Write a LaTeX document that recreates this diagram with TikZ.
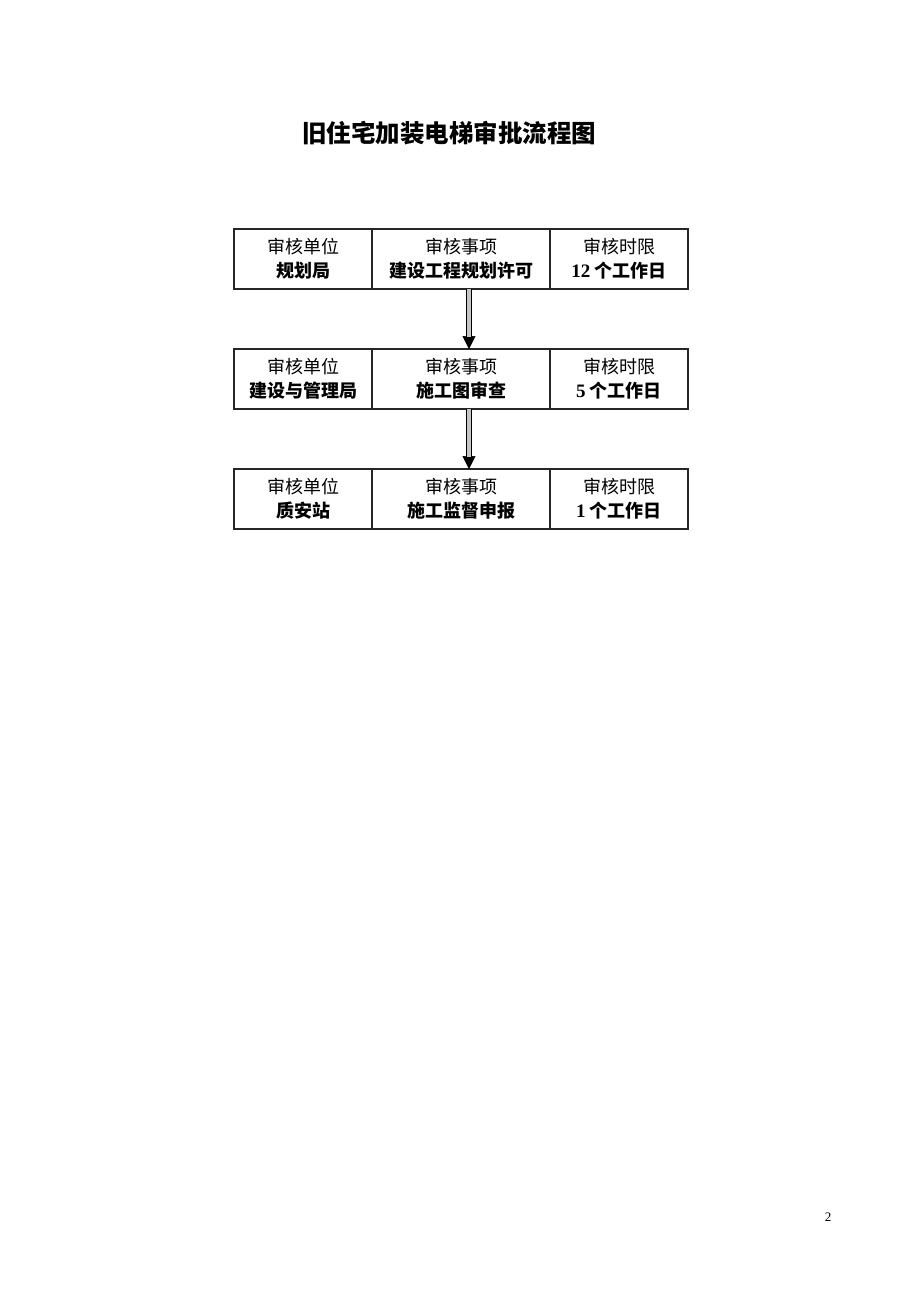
\documentclass[tikz,border=0pt]{standalone}
\usepackage{fontspec}
\setmainfont{Liberation Serif}
\newfontfamily\cjk{Noto Sans CJK SC}
\usepackage{tikz}
\usetikzlibrary{arrows.meta,positioning}
\tikzstyle{cell} = [rectangle, draw=black!85, line width=1.1pt, inner sep=0pt, outer sep=0pt,
minimum height=60pt, align=center, font=\cjk\fontsize{18}{24}\selectfont]
\tikzstyle{unit} = [cell, minimum width=138pt]
\tikzstyle{item} = [cell, minimum width=178pt]
\tikzstyle{shaft} = [draw=black, line width=1.2pt, double=gray!45, double distance=3.5pt, shorten >=12pt]
\tikzstyle{tip} = [draw, line width=0.5pt, -{Triangle[length=13pt,width=13pt]}]
\newcommand{\num}[1]{{\rmfamily\bfseries\fontsize{19}{24}\selectfont #1}}

\begin{document}
\begin{tikzpicture}[x=1pt, y=-1pt]
\useasboundingbox[fill=white] (0,0) rectangle (920,1302);
% Title
\node [font=\cjk\bfseries\fontsize{24.5}{28}\selectfont] (title) at (449,133) {旧住宅加装电梯审批流程图};
% Place nodes
\node [unit, anchor=north west] (u1) at (234,229) {审核单位\\\textbf{规划局}};
\node [item, right=0pt of u1] (s1) {审核事项\\\textbf{建设工程规划许可}};
\node [unit, right=0pt of s1] (t1) {审核时限\\\num{12} \textbf{个工作日}};
\node [unit, below=60pt of u1] (u2) {审核单位\\\textbf{建设与管理局}};
\node [item, right=0pt of u2] (s2) {审核事项\\\textbf{施工图审查}};
\node [unit, right=0pt of s2] (t2) {审核时限\\\num{5} \textbf{个工作日}};
\node [unit, below=60pt of u2] (u3) {审核单位\\\textbf{质安站}};
\node [item, right=0pt of u3] (s3) {审核事项\\\textbf{施工监督申报}};
\node [unit, right=0pt of s3] (t3) {审核时限\\\num{1} \textbf{个工作日}};
% Draw edges
\path [tip] ([xshift=8pt]s1.south) -- ([xshift=8pt]s2.north);
\path [shaft] ([xshift=8pt]s1.south) -- ([xshift=8pt]s2.north);
\path [tip] ([xshift=8pt]s2.south) -- ([xshift=8pt]s3.north);
\path [shaft] ([xshift=8pt]s2.south) -- ([xshift=8pt]s3.north);
% Page number
\node [font=\fontsize{13}{15}\selectfont] (page) at (828,1217) {2};
\end{tikzpicture}
\end{document}
